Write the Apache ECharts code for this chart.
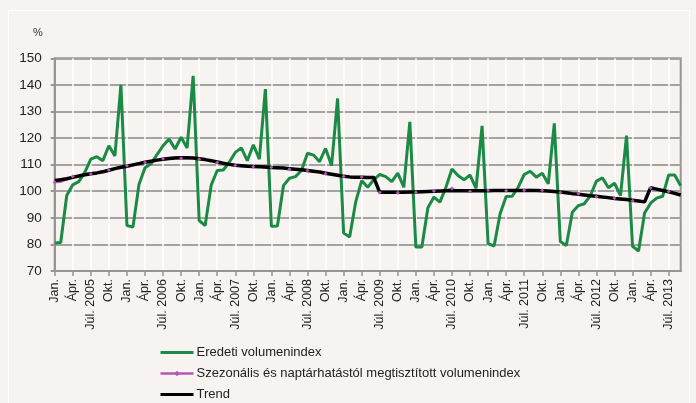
<!DOCTYPE html>
<html>
<head>
<meta charset="utf-8">
<script src="https://cdn.jsdelivr.net/npm/echarts@6.0.0/dist/echarts.min.js"></script>
<style>
  html, body { margin: 0; padding: 0; background: #f6f3f0; }
  #frame { position: absolute; left: 8px; top: 10px; width: 682px; height: 420px;
           border: 1.5px solid #ffffff; box-sizing: border-box; }
  #chart { position: absolute; left: 0; top: 0; width: 696px; height: 403px; }
</style>
</head>
<body>
<div id="frame"></div>
<div id="chart"></div>
<script>
// monthly series, Jan 2005 - Sep 2013
const years = [2005, 2006, 2007, 2008, 2009, 2010, 2011, 2012, 2013];
const monthNames = ['Jan.', 'Febr.', 'Márc.', 'Ápr.', 'Máj.', 'Jún.', 'Júl.', 'Aug.', 'Szept.', 'Okt.', 'Nov.', 'Dec.'];
const yTicks = { min: 70, max: 150, step: 10 };

// Eredeti volumenindex
const original = [
  80.5, 80.7, 98.4, 102.4, 103.6, 107.1, 112.1, 113.0, 111.5, 117.1, 113.3, 140.0,
  87.1, 86.5, 102.5, 108.8, 110.3, 113.8, 117.1, 119.6, 115.9, 120.3, 116.3, 143.4,
  89.0, 87.1, 102.3, 107.8, 108.0, 110.9, 114.6, 116.3, 111.5, 117.5, 112.1, 138.4,
  86.8, 86.9, 102.1, 104.9, 105.5, 107.8, 114.3, 113.6, 111.1, 116.1, 109.6, 134.9,
  84.3, 82.8, 95.9, 104.0, 101.5, 104.3, 106.3, 105.5, 103.6, 106.8, 101.5, 126.1,
  79.0, 79.0, 93.8, 97.8, 95.9, 101.5, 108.4, 105.9, 104.3, 106.1, 101.1, 124.6,
  80.3, 79.4, 91.5, 98.0, 98.1, 101.5, 106.3, 107.5, 105.3, 106.8, 102.8, 125.5,
  81.1, 79.6, 92.1, 94.6, 95.3, 98.4, 103.8, 105.0, 101.3, 103.0, 98.4, 120.9,
  79.3, 77.5, 91.8, 95.5, 97.4, 98.1, 106.1, 106.1, 102.1
];

// Szezonális és naptárhatástól megtisztított volumenindex
const adjusted = [
  103.4, 103.5, 104.4, 105.5, 105.6, 106.4, 106.5, 106.8, 107.6, 108.0, 108.6, 108.7,
  109.6, 109.8, 110.6, 110.8, 111.4, 111.6, 112.2, 112.4, 112.7, 112.4, 112.3, 112.6,
  112.0, 111.8, 111.6, 110.8, 110.4, 110.2, 109.7, 109.4, 109.5, 109.2, 109.3, 108.8,
  109.0, 108.6, 108.8, 108.3, 108.4, 107.9, 107.8, 107.3, 107.2, 106.6, 106.5, 105.8,
  105.5, 105.5, 105.1, 105.4, 105.1, 105.3, 99.5, 99.4, 99.7, 99.4, 99.8, 99.5,
  99.6, 100.0, 99.7, 100.1, 99.9, 100.4, 101.0, 100.1, 100.3, 99.9, 100.3, 100.0,
  100.4, 100.1, 100.5, 100.2, 100.5, 100.2, 100.4, 100.6, 100.2, 100.4, 99.9, 100.0,
  99.5, 99.6, 98.8, 99.1, 98.4, 98.4, 97.9, 97.9, 97.4, 97.4, 96.9, 97.0,
  96.4, 96.4, 95.8, 101.2, 100.9, 100.1, 99.9, 99.0, 98.7
];

// Trend
const trend = [
  104.0, 104.3, 104.7, 105.2, 105.7, 106.2, 106.6, 106.9, 107.3, 107.9, 108.5, 109.0,
  109.4, 109.9, 110.4, 110.9, 111.3, 111.7, 112.0, 112.3, 112.5, 112.6, 112.6, 112.5,
  112.2, 111.9, 111.5, 111.0, 110.5, 110.1, 109.8, 109.6, 109.4, 109.3, 109.2, 109.1,
  108.9, 108.8, 108.7, 108.5, 108.3, 108.1, 107.8, 107.5, 107.2, 106.8, 106.4, 106.0,
  105.6, 105.4, 105.3, 105.3, 105.2, 105.2, 99.6, 99.6, 99.6, 99.6, 99.6, 99.7,
  99.7, 99.8, 99.9, 100.0, 100.1, 100.2, 100.2, 100.2, 100.2, 100.2, 100.2, 100.2,
  100.2, 100.3, 100.3, 100.3, 100.3, 100.3, 100.3, 100.3, 100.3, 100.2, 100.1, 99.9,
  99.7, 99.4, 99.1, 98.9, 98.6, 98.3, 98.1, 97.8, 97.6, 97.3, 97.1, 96.9,
  96.6, 96.3, 96.0, 101.3, 100.8, 100.3, 99.8, 99.2, 98.6
];

const categories = [];
years.forEach(y => monthNames.forEach(m => {
  if (categories.length < original.length) categories.push(m === 'Júl.' ? m + ' ' + y : m);
}));

const FONT = '"Liberation Sans", Arial, sans-serif';
const GREEN = '#1b8a45', PURPLE = '#b458b4';
const chart = echarts.init(document.getElementById('chart'), null, { renderer: 'canvas' });

chart.setOption({
  animation: false,
  backgroundColor: 'transparent',
  textStyle: { fontFamily: FONT },
  grid: {
    left: 54.7, right: 15.3, top: 58.3, bottom: 132,
    show: true, borderColor: '#959595', borderWidth: 2, backgroundColor: 'transparent'
  },
  graphic: [{
    type: 'text', left: 33, top: 27,
    style: { text: '%', fontSize: 11, fill: '#333', fontFamily: FONT }
  }],
  legend: {
    orient: 'vertical', left: 159, top: 346, height: 100, padding: 0,
    itemWidth: 33, itemHeight: 7, itemGap: 8,
    textStyle: { fontSize: 13, color: '#222', fontFamily: FONT, padding: [0, 0, 0, -2] },
    data: [
      { name: 'Eredeti volumenindex', icon: 'inherit', itemStyle: { opacity: 0 }, lineStyle: { width: 3 } },
      { name: 'Szezonális és naptárhatástól megtisztított volumenindex', icon: 'inherit', lineStyle: { width: 2.5 } },
      { name: 'Trend', icon: 'inherit', itemStyle: { opacity: 0 }, lineStyle: { width: 3 } }
    ]
  },
  xAxis: {
    type: 'category', data: categories, boundaryGap: false,
    axisLine: { lineStyle: { color: '#959595', width: 2 } },
    axisTick: { interval: 2, length: 5, lineStyle: { color: '#959595', width: 1.5 } },
    axisLabel: { interval: 2, rotate: 90, margin: 8, fontSize: 12.5, color: '#222', fontFamily: FONT },
    splitLine: { show: true, interval: 2, lineStyle: { color: '#ffffff', width: 1.5 } }
  },
  yAxis: {
    type: 'value', min: yTicks.min, max: yTicks.max, interval: yTicks.step,
    axisLine: { show: true, lineStyle: { color: '#959595', width: 2 } },
    axisTick: { show: true, length: 4, lineStyle: { color: '#959595', width: 2 } },
    axisLabel: { fontSize: 13.5, color: '#222', margin: 13, fontFamily: FONT },
    splitLine: { lineStyle: { color: '#a3a3a3', width: 2 } }
  },
  series: [
    {
      name: 'Eredeti volumenindex', type: 'line', data: original,
      symbol: 'none', lineStyle: { color: GREEN, width: 3 }, itemStyle: { color: GREEN }
    },
    {
      name: 'Szezonális és naptárhatástól megtisztított volumenindex', type: 'line', data: adjusted,
      symbol: 'diamond', symbolSize: 4,
      lineStyle: { color: PURPLE, width: 2 }, itemStyle: { color: PURPLE }
    },
    {
      name: 'Trend', type: 'line', data: trend,
      symbol: 'none', lineStyle: { color: '#000000', width: 3.5 }, itemStyle: { color: '#000000' }
    }
  ]
});
</script>
</body>
</html>
